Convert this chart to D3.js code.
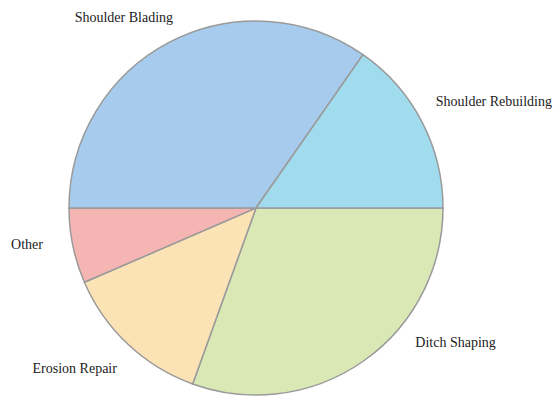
<!DOCTYPE html>
<html>
<head>
<meta charset="utf-8">
<script src="https://cdn.jsdelivr.net/npm/d3@7"></script>
<style>
  html, body { margin: 0; padding: 0; background: #fff; }
  svg { display: block; }
</style>
</head>
<body>
<svg id="chart" width="554" height="399"></svg>
<script>
// Share of maintenance work by activity (percent)
const categories = ["Ditch Shaping", "Erosion Repair", "Other", "Shoulder Blading", "Shoulder Rebuilding"];
const values = [30.5, 13.0, 6.5, 34.7, 15.3];
const colors = ["#d9e8b5", "#fce3b5", "#f4b5b3", "#a6cbec", "#a1dcee"];

// label placement: angle (deg, clockwise from 12 o'clock), radius, anchor
const labelLayout = [
  { angle: 130, r: 208, anchor: "start" },
  { angle: 221, r: 212, anchor: "end" },
  { angle: 260.5, r: 216, anchor: "end" },
  { angle: 336.5, r: 208, anchor: "end" },
  { angle: 59.3, r: 209, anchor: "start" }
];

const svg = d3.select("#chart");
const cx = 256, cy = 208, radius = 187;

const pie = d3.pie()
  .sort(null)
  .value(d => d)
  .startAngle(Math.PI / 2)
  .endAngle(Math.PI / 2 + 2 * Math.PI);

const arc = d3.arc().innerRadius(0).outerRadius(radius);
const color = d3.scaleOrdinal().domain(categories).range(colors);

const g = svg.append("g").attr("transform", `translate(${cx},${cy})`);

const arcs = pie(values);

g.selectAll("path.slice")
  .data(arcs)
  .join("path")
  .attr("class", "slice")
  .attr("d", arc)
  .attr("fill", (d, i) => color(categories[i]))
  .attr("stroke", "#9a9a9a")
  .attr("stroke-width", 1.5)
  .attr("stroke-linejoin", "round");

g.selectAll("text.label")
  .data(arcs)
  .join("text")
  .attr("class", "label")
  .attr("x", (d, i) => labelLayout[i].r * Math.sin(labelLayout[i].angle * Math.PI / 180))
  .attr("y", (d, i) => -labelLayout[i].r * Math.cos(labelLayout[i].angle * Math.PI / 180))
  .attr("dy", "0.35em")
  .attr("text-anchor", (d, i) => labelLayout[i].anchor)
  .attr("font-family", "'Liberation Serif', 'Times New Roman', Times, serif")
  .attr("font-size", 14)
  .attr("fill", "#222")
  .text((d, i) => categories[i]);
</script>
</body>
</html>
